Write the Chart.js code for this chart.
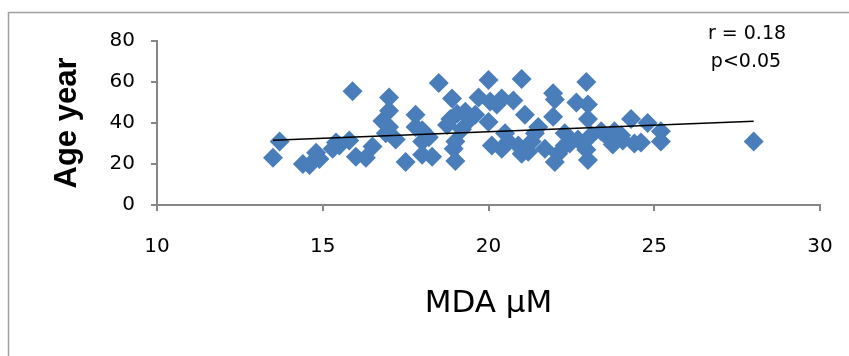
<!DOCTYPE html>
<html>
<head>
<meta charset="utf-8">
<script src="https://cdn.jsdelivr.net/npm/chart.js@4/dist/chart.umd.min.js"></script>
<style>
  html, body { margin: 0; padding: 0; background: #fff; overflow: hidden; }
  canvas { display: block; }
</style>
</head>
<body>
<canvas id="chart" width="849" height="356"></canvas>
<script>
// MDA (µM) and age (years) for each subject
const mdaValues = [
  13.5, 13.7, 14.4, 14.6, 14.8, 14.9, 15.3, 15.4, 15.5, 15.8,
  15.9, 16.0, 16.3, 16.5, 16.8, 16.9, 17.0, 17.0, 17.0, 17.2,
  17.5, 17.8, 17.8, 18.0, 18.0, 18.0, 18.2, 18.3, 18.5, 18.75,
  18.85, 18.9, 18.95, 19.0, 19.0, 19.05, 19.2, 19.3, 19.45, 19.6,
  19.7, 20.0, 20.0, 20.05, 20.1, 20.25, 20.4, 20.4, 20.5, 20.6,
  20.75, 20.9, 21.0, 21.0, 21.1, 21.2, 21.3, 21.4, 21.5, 21.7,
  21.95, 21.95, 22.0, 22.0, 22.1, 22.3, 22.3, 22.45, 22.65, 22.7,
  22.95, 22.95, 23.0, 23.0, 23.0, 23.1, 23.4, 23.6, 23.75, 23.8,
  24.0, 24.05, 24.3, 24.4, 24.6, 24.8, 25.2, 25.2, 28.0
];
const ageValues = [
  23, 31, 20, 19.5, 25.5, 22.5, 27.5, 30.5, 29, 31.5,
  55.5, 23.5, 23, 28.5, 41, 35, 52.5, 46, 38, 32,
  21, 44, 38, 36.5, 31, 24.5, 33, 23.5, 59.5, 39,
  42, 52, 27.5, 31, 21.5, 44.5, 37, 45.5, 42, 44,
  52.5, 61, 40.5, 50.5, 29, 49, 52, 27.5, 35, 31,
  51, 29, 61.5, 25, 44, 26, 31, 35, 38, 27.5,
  54.5, 43, 51.5, 21, 25, 29, 35, 30, 50, 32,
  60, 27, 49, 42, 22, 34, 36, 33, 29.5, 36,
  34, 31.5, 42, 30, 30.5, 40, 36, 31, 31
];

// linear trend line as drawn in the figure
const trendX = [13.5, 28.0];
const trendY = [31.6, 40.8];

const xTicks = [10, 15, 20, 25, 30];
const yTicks = [0, 20, 40, 60, 80];
const statsText = ['r = 0.18', 'p<0.05'];

const axisGray = '#868686';

// outer frame (only top and left edges show) and the r / p note
const extras = {
  id: 'extras',
  beforeDraw(chart) {
    const ctx = chart.ctx;
    ctx.save();
    ctx.fillStyle = '#fff';
    ctx.fillRect(0, 0, chart.width, chart.height);
    ctx.strokeStyle = '#a0a0a0';
    ctx.lineWidth = 1.5;
    ctx.beginPath();
    ctx.moveTo(8.5, chart.height);
    ctx.lineTo(8.5, 12.5);
    ctx.lineTo(chart.width, 12.5);
    ctx.stroke();
    ctx.restore();
  },
  afterDraw(chart) {
    const ctx = chart.ctx;
    ctx.save();
    ctx.fillStyle = '#000';
    ctx.font = '19px "DejaVu Sans"';
    ctx.textAlign = 'center';
    ctx.textBaseline = 'middle';
    ctx.fillText(statsText[0], 747, 34);
    ctx.fillText(statsText[1], 746, 62);
    ctx.restore();
  }
};

new Chart(document.getElementById('chart'), {
  type: 'scatter',
  data: {
    datasets: [
      {
        label: 'Age',
        data: mdaValues.map((x, i) => ({ x: x, y: ageValues[i] })),
        pointStyle: 'rectRot',
        pointRadius: 10,
        pointBackgroundColor: '#4a7ebb',
        pointBorderColor: '#4a7ebb',
        pointBorderWidth: 0,
        showLine: false,
        order: 2,
      },
      {
        type: 'line',
        label: 'Trend',
        data: trendX.map((x, i) => ({ x: x, y: trendY[i] })),
        borderColor: '#000',
        borderWidth: 1.5,
        pointRadius: 0,
        fill: false,
        order: 1,
      },
    ],
  },
  options: {
    responsive: false,
    animation: false,
    layout: { autoPadding: false, padding: { left: 9, top: 41, right: 29, bottom: 0 } },
    plugins: {
      legend: { display: false },
      tooltip: { enabled: false },
    },
    scales: {
      x: {
        type: 'linear',
        min: 10,
        max: 30,
        afterBuildTicks: (s) => { s.ticks = xTicks.map(v => ({ value: v })); },
        afterFit: (s) => { s.height = 151; s.paddingRight = 0; s.paddingLeft = 0; },
        grid: { drawOnChartArea: false, drawTicks: true, tickLength: 6, color: axisGray, lineWidth: 2 },
        border: { color: axisGray, width: 2 },
        ticks: { color: '#000', padding: 24, font: { family: 'DejaVu Sans', size: 20 } },
        title: {
          display: true,
          text: 'MDA µM',
          color: '#000',
          font: { family: 'DejaVu Sans', size: 31 },
          padding: { top: 0, bottom: 33 },
        },
      },
      y: {
        type: 'linear',
        min: 0,
        max: 80,
        afterBuildTicks: (s) => { s.ticks = yTicks.map(v => ({ value: v })); },
        afterFit: (s) => { s.width = 148; s.paddingTop = 0; s.paddingBottom = 0; },
        grid: { drawOnChartArea: false, drawTicks: true, tickLength: 6, color: axisGray, lineWidth: 2 },
        border: { color: axisGray, width: 2 },
        ticks: { color: '#000', padding: 16, font: { family: 'DejaVu Sans', size: 20 } },
        title: {
          display: true,
          text: 'Age year',
          color: '#000',
          font: { family: 'Liberation Sans', size: 31, weight: 'bold' },
          padding: { top: 40, bottom: 0 },
        },
      },
    },
  },
  plugins: [extras],
});
</script>
</body>
</html>
